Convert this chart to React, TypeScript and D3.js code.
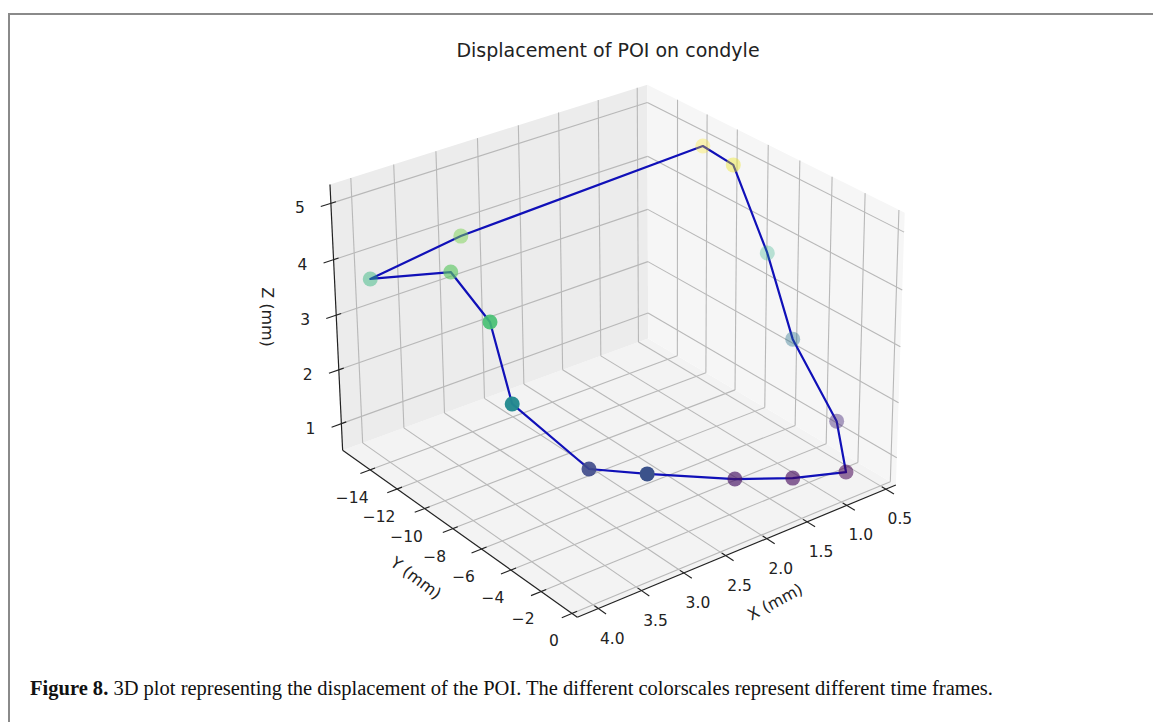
import React from 'react';
import * as d3 from 'd3';

const W = 1153, H = 722;
const xTicks = [0.5, 1.0, 1.5, 2.0, 2.5, 3.0, 3.5, 4.0];
const yTicks = [-14, -12, -10, -8, -6, -4, -2, 0];
const zTicks = [1, 2, 3, 4, 5];
const xLim = [0.37, 4.24], yLim = [-16.09, 0.34], zLim = [0.5, 5.33];

// POI trajectory (mm), in time order; the path closes on itself
const xs = [0.74, 1.31, 1.82, 2.99, 3.28, 3.80, 3.67, 3.50, 3.91, 3.13, 0.70, 0.64, 0.41, 0.61, 0.53];
const ys = [-0.98, -1.51, -2.59, -2.03, -4.21, -6.28, -8.45, -12.17, -15.54, -13.65, -10.56, -8.87, -7.77, -5.08, -2.62];
const zs = [0.72, 0.85, 0.94, 1.82, 1.69, 2.78, 3.79, 4.00, 3.57, 4.23, 5.11, 4.98, 3.44, 2.39, 1.25];

// projection calibration: normalized box corners -> screen (layout)
const calib3 = [[0,0,0],[1,0,0],[0,1,0],[1,1,0],[1,0,1],[0,1,1],[0,0,1]];
const calib2 = [[649,338],[342,450],[895,486],[578,617],[330,185],[905,212],[647,85]];

function solve(N: number[][], r: number[]) {
  const n = r.length; const A = N.map((row, i) => [...row, r[i]]);
  for (let c = 0; c < n; c++) {
    let p = c; for (let i = c + 1; i < n; i++) if (Math.abs(A[i][c]) > Math.abs(A[p][c])) p = i;
    [A[c], A[p]] = [A[p], A[c]];
    for (let i = 0; i < n; i++) { if (i === c) continue; const f = A[i][c] / A[c][c]; for (let k = c; k <= n; k++) A[i][k] -= f * A[c][k]; }
  }
  return A.map((row, i) => row[n] / row[i]);
}
function fit() {
  const rows: number[][] = [], b: number[] = [];
  calib3.forEach(([X, Y, Z], i) => {
    const u = (calib2[i][0] - 600) / 300, v = (calib2[i][1] - 400) / 300;
    rows.push([X, Y, Z, 1, 0, 0, 0, 0, -u * X, -u * Y, -u * Z]); b.push(u);
    rows.push([0, 0, 0, 0, X, Y, Z, 1, -v * X, -v * Y, -v * Z]); b.push(v);
  });
  const n = 11; const N = Array.from({ length: n }, () => new Array(n).fill(0)); const r = new Array(n).fill(0);
  rows.forEach((a, k) => { for (let i = 0; i < n; i++) { r[i] += a[i] * b[k]; for (let j = 0; j < n; j++) N[i][j] += a[i] * a[j]; } });
  const m = solve(N, r);
  return [[m[0], m[1], m[2], m[3]], [m[4], m[5], m[6], m[7]], [m[8], m[9], m[10], 1]];
}
const M = fit();
const sx = d3.scaleLinear().domain(xLim).range([0, 1]);
const sy = d3.scaleLinear().domain(yLim).range([0, 1]);
const sz = d3.scaleLinear().domain(zLim).range([0, 1]);
function P(x: number, y: number, z: number) {
  const a = sx(x), b = sy(y), c = sz(z);
  const X = M[0][0] * a + M[0][1] * b + M[0][2] * c + M[0][3];
  const Y = M[1][0] * a + M[1][1] * b + M[1][2] * c + M[1][3];
  const w = M[2][0] * a + M[2][1] * b + M[2][2] * c + M[2][3];
  return [X / w * 300 + 600, Y / w * 300 + 400, w];
}

const font = "'DejaVu Sans', sans-serif";
const fmt = (v: number) => (v < 0 ? '\u2212' : '') + Math.abs(v);
const fmt1 = (v: number) => v.toFixed(1);
const TICK_FS = 15.5, LABEL_FS = 16;

export default function App() {
  const [x0, x1] = xLim, [y0, y1] = yLim, [z0, z1] = zLim;
  const xr = x1 - x0, yr = y1 - y0;
  const seg = (p: number[], q: number[]) => { const A = P(p[0], p[1], p[2]), B = P(q[0], q[1], q[2]); return `M${A[0]},${A[1]}L${B[0]},${B[1]}`; };
  const poly = (pts: number[][]) => 'M' + pts.map(p => { const A = P(p[0], p[1], p[2]); return `${A[0]},${A[1]}`; }).join('L') + 'Z';
  const grid: string[] = [];
  xTicks.forEach(t => { grid.push(seg([t, y0, z0], [t, y1, z0])); grid.push(seg([t, y0, z0], [t, y0, z1])); });
  yTicks.forEach(t => { grid.push(seg([x0, t, z0], [x1, t, z0])); grid.push(seg([x0, t, z0], [x0, t, z1])); });
  zTicks.forEach(t => { grid.push(seg([x0, y0, t], [x1, y0, t])); grid.push(seg([x0, y0, t], [x0, y1, t])); });

  const color = d3.scaleSequential(d3.interpolateViridis).domain(d3.extent(zs) as [number, number]);
  const pts = xs.map((x, i) => { const p = P(x, ys[i], zs[i]); return { sx: p[0], sy: p[1], w: p[2], z: zs[i] }; });
  const [wMin, wMax] = d3.extent(pts, p => p.w) as [number, number];
  const alpha = d3.scaleLinear().domain([wMin, wMax]).range([1, 0.3]);
  const line = d3.line<{ sx: number; sy: number }>().x(p => p.sx).y(p => p.sy).curve(d3.curveLinearClosed);

  return (
    <svg width={W} height={H} style={{ position: 'absolute', left: 0, top: 0, background: '#fff' }}>
      <path d={`M9,${H}L9,14L${W},14`} fill="none" stroke="#8a8a8a" strokeWidth={2} />
      <text x={608} y={57} textAnchor="middle" fontFamily={font} fontSize={19} fill="#222">Displacement of POI on condyle</text>
      <path d={poly([[x0, y0, z0], [x1, y0, z0], [x1, y1, z0], [x0, y1, z0]])} fill="#f3f3f3" />
      <path d={poly([[x0, y0, z0], [x1, y0, z0], [x1, y0, z1], [x0, y0, z1]])} fill="#ececec" />
      <path d={poly([[x0, y0, z0], [x0, y1, z0], [x0, y1, z1], [x0, y0, z1]])} fill="#f6f6f6" />
      {grid.map((d, i) => <path key={i} d={d} stroke="#b8b8b8" strokeWidth={1.1} fill="none" />)}
      <path d={seg([x1, y0, z0], [x1, y1, z0])} stroke="#222" strokeWidth={1.2} />
      <path d={seg([x0, y1, z0], [x1, y1, z0])} stroke="#222" strokeWidth={1.2} />
      <path d={seg([x1, y0, z0], [x1, y0, z1])} stroke="#222" strokeWidth={1.2} />
      {xTicks.map(t => {
        const p = P(t, y1, z0);
        return <g key={'xt' + t}>
          <path d={seg([t, y1 - 0.015 * yr, z0], [t, y1 + 0.03 * yr, z0])} stroke="#222" strokeWidth={1.1} />
          <text x={p[0] + 14} y={p[1] + 30} textAnchor="middle" dominantBaseline="central" fontFamily={font} fontSize={TICK_FS} fill="#222">{fmt1(t)}</text>
        </g>;
      })}
      {yTicks.map(t => {
        const p = P(x1, t, z0);
        return <g key={'yt' + t}>
          <path d={seg([x1 - 0.015 * xr, t, z0], [x1 + 0.03 * xr, t, z0])} stroke="#222" strokeWidth={1.1} />
          <text x={p[0] - 18} y={p[1] + 28} textAnchor="middle" dominantBaseline="central" fontFamily={font} fontSize={TICK_FS} fill="#222">{fmt(t)}</text>
        </g>;
      })}
      {zTicks.map(t => {
        const p = P(x1, y0, t);
        return <g key={'zt' + t}>
          <path d={seg([x1 - 0.015 * xr, y0, t], [x1 + 0.03 * xr, y0, t])} stroke="#222" strokeWidth={1.1} />
          <text x={p[0] - 31} y={p[1] + 5} textAnchor="middle" dominantBaseline="central" fontFamily={font} fontSize={TICK_FS} fill="#222">{fmt(t)}</text>
        </g>;
      })}
      <text transform="translate(775,602) rotate(-28)" textAnchor="middle" dominantBaseline="central" fontFamily={font} fontSize={LABEL_FS} fill="#222">X (mm)</text>
      <text transform="translate(416,578) rotate(37)" textAnchor="middle" dominantBaseline="central" fontFamily={font} fontSize={LABEL_FS} fill="#222">Y (mm)</text>
      <text transform="translate(267,317) rotate(90)" textAnchor="middle" dominantBaseline="central" fontFamily={font} fontSize={LABEL_FS} fill="#222">Z (mm)</text>
      <path d={line(pts) || ''} fill="none" stroke="#1010b8" strokeWidth={2.2} strokeLinejoin="round" />
      {pts.map((p, i) => <circle key={'p' + i} cx={p.sx} cy={p.sy} r={7.5} fill={color(p.z)} fillOpacity={alpha(p.w)} />)}
      <text x={30} y={695} fontFamily="'Liberation Serif', serif" fontSize={20} fill="#111" textLength={963} lengthAdjust="spacingAndGlyphs">
        <tspan fontWeight="bold">Figure 8.</tspan> 3D plot representing the displacement of the POI. The different colorscales represent different time frames.
      </text>
    </svg>
  );
}
